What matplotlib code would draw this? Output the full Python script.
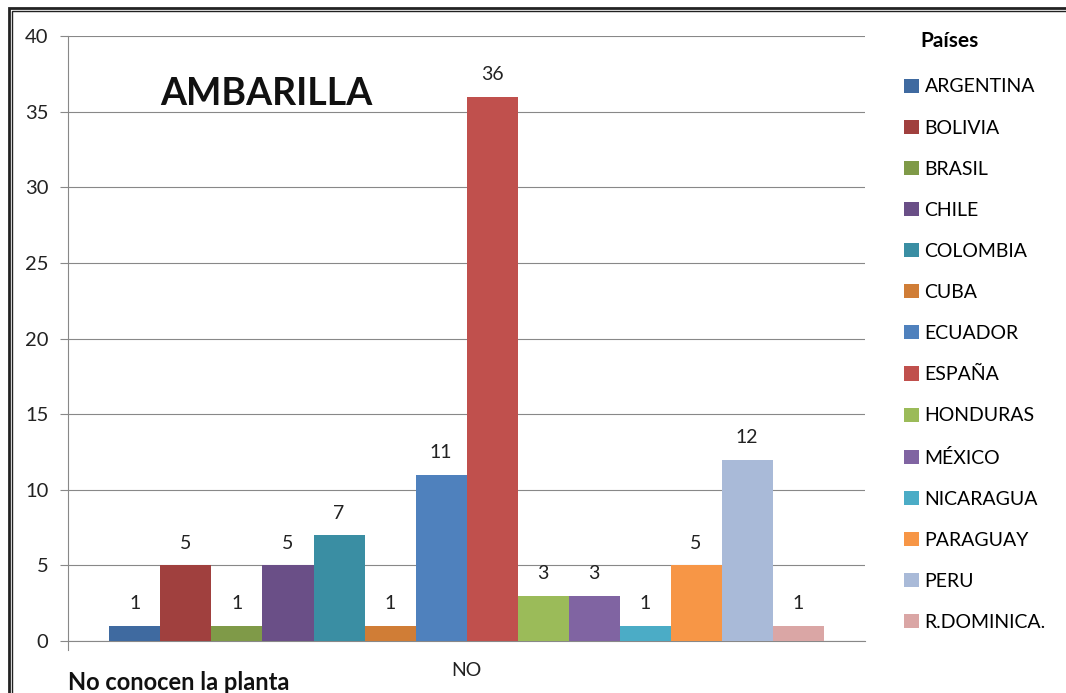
import matplotlib.pyplot as plt
import matplotlib.patches as patches
import numpy as np

paises = ['ARGENTINA', 'BOLIVIA', 'BRASIL', 'CHILE', 'COLOMBIA', 'CUBA', 'ECUADOR',
          'ESPAÑA', 'HONDURAS', 'MÉXICO', 'NICARAGUA', 'PARAGUAY', 'PERU', 'R.DOMINICA.']
valores = [1, 5, 1, 5, 7, 1, 11, 36, 3, 3, 1, 5, 12, 1]
colores = ['#3F6AA0', '#A0403E', '#7F9A48', '#6A4F87', '#3A8EA3', '#D07D36', '#4F81BD',
           '#C0504D', '#9BBB59', '#8064A2', '#4BACC6', '#F79646', '#A9BAD8', '#DAA6A5']
categoria = 'NO'

plt.rcParams['font.family'] = ['Lato', 'DejaVu Sans']

fig = plt.figure(figsize=(10.66, 6.93), dpi=100)
ax = fig.add_axes([0.0638, 0.075, 0.7477, 0.873])

# marco doble alrededor del gráfico (cortado a la derecha y abajo)
for off, lw in [(8.5, 2.0), (11.5, 1.0)]:
    fig.add_artist(patches.Rectangle((off / 1066, -0.1), 1.2, 1.1 - off / 693,
                                     transform=fig.transFigure, fill=False,
                                     edgecolor='#222222', linewidth=lw))

n = len(valores)
ancho = 0.896 / n
xs = (np.arange(n) - (n - 1) / 2) * ancho
bars = ax.bar(xs, valores, width=ancho, color=colores, label=paises, zorder=3)
for x, v in zip(xs, valores):
    ax.text(x, v + 0.9, str(v), ha='center', va='bottom', fontsize=14, color='#222222')

ax.set_xlim(-0.5, 0.5)
ax.set_ylim(0, 40)
ax.set_yticks(range(0, 41, 5))
ax.tick_params(axis='y', labelsize=14.5, length=6, color='#888888', pad=8, labelcolor='#222222')
ax.set_xticks([0])
ax.set_xticklabels([categoria])
ax.tick_params(axis='x', labelsize=14, length=0, pad=15, labelcolor='#222222')
ax.grid(axis='y', color='#888888', linewidth=0.8, zorder=0)
for s in ['top', 'right']:
    ax.spines[s].set_visible(False)
for s in ['left', 'bottom']:
    ax.spines[s].set_color('#888888')
    ax.spines[s].set_linewidth(0.8)
ax.plot([-0.5, -0.5], [0, -0.6], color='#888888', lw=0.8, clip_on=False)

ax.text(0.116, 0.905, 'AMBARILLA', transform=ax.transAxes, fontsize=27,
        fontweight='bold', ha='left', va='center', color='#111111')
fig.text(68 / 1066, 1 - 682 / 693, 'No conocen la planta', fontsize=17,
         fontweight='bold', ha='left', va='center', color='#111111')

leg = ax.legend(handles=bars, labels=paises, title='Países', loc='upper left',
                bbox_to_anchor=(1.027, 1.0366), frameon=False, fontsize=14,
                handlelength=0.75, handleheight=0.75, handletextpad=0.3,
                labelspacing=1.24, title_fontproperties={'weight': 'bold', 'size': 15})
leg._legend_box.align = 'left'
leg._legend_box.sep = 19.5
leg.get_title().set_position((16, 0))

fig.savefig('out.png', dpi=100)
